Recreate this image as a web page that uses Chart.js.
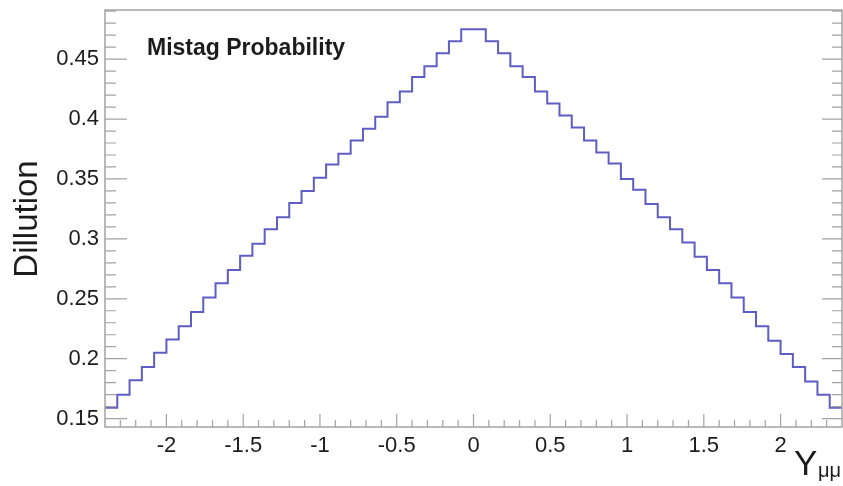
<!DOCTYPE html>
<html>
<head>
<meta charset="utf-8">
<script src="https://cdn.jsdelivr.net/npm/chart.js@4/dist/chart.umd.min.js"></script>
<style>
  html, body { margin: 0; padding: 0; background: #fff; }
</style>
</head>
<body>
<canvas id="chart" width="843" height="486"></canvas>
<script>
// histogram binning in Y_mumu
const binCount = 60;
const rangeLow = -2.4;
const rangeHigh = 2.4;

// mistag probability per bin
const mistag = [
  0.159, 0.170, 0.182, 0.193, 0.205, 0.216, 0.227, 0.239, 0.251, 0.263,
  0.274, 0.286, 0.296, 0.308, 0.318, 0.330, 0.340, 0.351, 0.362, 0.371,
  0.382, 0.392, 0.402, 0.414, 0.423, 0.435, 0.444, 0.455, 0.465, 0.475,
  0.475, 0.465, 0.455, 0.444, 0.435, 0.423, 0.413, 0.403, 0.393, 0.382,
  0.372, 0.363, 0.350, 0.341, 0.329, 0.318, 0.308, 0.297, 0.285, 0.274,
  0.263, 0.251, 0.239, 0.227, 0.215, 0.204, 0.193, 0.181, 0.170, 0.159
];

const xTickLabels = ['-2', '-1.5', '-1', '-0.5', '0', '0.5', '1', '1.5', '2'];
const yTickLabels = ['0.15', '0.2', '0.25', '0.3', '0.35', '0.4', '0.45'];

const yMin = 0.143;
const yMax = 0.491;

const FONT = '"Liberation Sans", Arial, Helvetica, sans-serif';
const AXIS_GREY = '#a3a3a3';
const TEXT = '#1c1c1c';

// one point on each bin's low edge, plus the closing edge
const binWidth = (rangeHigh - rangeLow) / binCount;
const points = mistag.map((v, i) => ({ x: rangeLow + i * binWidth, y: v }));
points.push({ x: rangeHigh, y: mistag[mistag.length - 1] });

// ROOT-style frame: inward ticks, major + minor
const frameAndLabels = {
  id: 'frameAndLabels',
  afterDraw(chart) {
    const ctx = chart.ctx;
    const area = chart.chartArea;
    const xs = chart.scales.x;
    const ys = chart.scales.y;

    ctx.save();
    ctx.strokeStyle = AXIS_GREY;
    ctx.lineWidth = 1.5;
    ctx.strokeRect(area.left, area.top, area.right - area.left, area.bottom - area.top);

    ctx.lineWidth = 1.2;
    ctx.beginPath();
    // x ticks along the bottom
    for (let k = -23; k <= 23; k++) {
      const px = xs.getPixelForValue(k / 10);
      const len = k % 5 === 0 ? 13 : 7;
      ctx.moveTo(px, area.bottom);
      ctx.lineTo(px, area.bottom - len);
    }
    // y ticks on left and right
    for (let k = 15; k <= 49; k++) {
      const py = ys.getPixelForValue(k / 100);
      const major = k % 5 === 0;
      ctx.moveTo(area.left, py);
      ctx.lineTo(area.left + (major ? 22 : 11), py);
      ctx.moveTo(area.right, py);
      ctx.lineTo(area.right - (major ? 20 : 10), py);
    }
    ctx.stroke();

    // text
    ctx.fillStyle = TEXT;
    ctx.textBaseline = 'alphabetic';
    ctx.textAlign = 'left';
    ctx.font = 'bold 23px ' + FONT;
    ctx.fillText('Mistag Probability', 147, 55);

    ctx.save();
    ctx.translate(37, 219);
    ctx.rotate(-Math.PI / 2);
    ctx.textAlign = 'center';
    ctx.font = '33px ' + FONT;
    ctx.fillText('Dillution', 0, 0);
    ctx.restore();

    ctx.textAlign = 'left';
    ctx.font = '35px ' + FONT;
    ctx.fillText('Y', 794, 475);
    ctx.font = '20px ' + FONT;
    ctx.fillText('\u03bc\u03bc', 818, 477);
    ctx.restore();
  }
};

new Chart(document.getElementById('chart'), {
  type: 'line',
  data: {
    datasets: [{
      label: 'Mistag Probability',
      data: points,
      stepped: 'before',
      borderColor: '#5d5dc4',
      borderWidth: 2,
      pointRadius: 0,
      fill: false
    }]
  },
  options: {
    responsive: false,
    animation: false,
    layout: { padding: { top: 10, right: 1, left: 0, bottom: 0 } },
    plugins: {
      legend: { display: false },
      tooltip: { enabled: false }
    },
    scales: {
      x: {
        type: 'linear',
        min: rangeLow,
        max: rangeHigh,
        grid: { display: false, drawTicks: false },
        border: { display: false },
        afterBuildTicks: (scale) => { scale.ticks = xTickLabels.map(t => ({ value: parseFloat(t) })); },
        afterFit: (scale) => { scale.height = 59; scale.paddingLeft = 0; scale.paddingRight = 0; },
        ticks: {
          autoSkip: false,
          maxRotation: 0,
          padding: 6,
          color: TEXT,
          font: { family: FONT, size: 22 },
          callback: (v, i) => xTickLabels[i]
        }
      },
      y: {
        min: yMin,
        max: yMax,
        grid: { display: false, drawTicks: false },
        border: { display: false },
        afterBuildTicks: (scale) => { scale.ticks = yTickLabels.map(t => ({ value: parseFloat(t) })); },
        afterFit: (scale) => { scale.width = 105; scale.paddingTop = 0; scale.paddingBottom = 0; },
        ticks: {
          autoSkip: false,
          padding: 6,
          color: TEXT,
          font: { family: FONT, size: 22 },
          callback: (v, i) => yTickLabels[i]
        }
      }
    }
  },
  plugins: [frameAndLabels]
});
</script>
</body>
</html>
